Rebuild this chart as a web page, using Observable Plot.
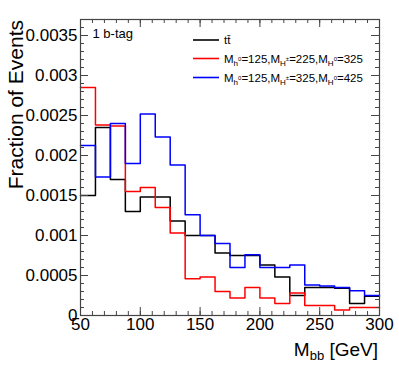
<!DOCTYPE html>
<html><head><meta charset="utf-8">
<script src="https://cdn.jsdelivr.net/npm/d3@7"></script>
<script src="https://cdn.jsdelivr.net/npm/@observablehq/plot@0.6"></script>
<style>
body{margin:0;background:#fff}
svg{font-family:"Liberation Sans",Arial,Helvetica,sans-serif}
</style>
</head><body><div id="chart"></div>
<script>
// bin edges (GeV), 12.5 GeV bins
const binEdges = [50,62.5,75,87.5,100,112.5,125,137.5,150,162.5,175,187.5,200,212.5,225,237.5,250,262.5,275,287.5,300];
// fraction of events per bin
const ttbar  = [0.0015,0.00235,0.0017,0.0013,0.00148,0.00148,0.00118,0.0010,0.0010,0.00078,0.00075,0.00075,0.00063,0.00048,0.00025,0.00035,0.00035,0.00034,0.00015,0.00024];
const sig225 = [0.00285,0.00238,0.00237,0.00155,0.0016,0.00135,0.00103,0.00046,0.00048,0.0003,0.00022,0.00035,0.00022,0.00015,0.00028,0.000125,0.000125,0.00007,0.0001,0.0001];
const sig325 = [0.002125,0.00173,0.0024,0.0019,0.00252,0.00223,0.00188,0.00126,0.0010,0.0009,0.0006,0.00076,0.0006,0.0006,0.00063,0.00038,0.00037,0.00035,0.00031,0.00025];
const seriesColors = ["#000000","#ff0000","#0000ff"];
const xTickLabels = [50,100,150,200,250,300];
const yTickLabels = [0,0.0005,0.001,0.0015,0.002,0.0025,0.003,0.0035];

const W = 399, H = 375, mL = 80, mR = 20, mT = 19, mB = 60;
const pw = W - mL - mR, ph = H - mT - mB;
const frameColor = "#444";

function steps(vals){ return binEdges.map((x,i)=>({x, y: vals[Math.min(i, vals.length-1)]})); }

const xMinor = d3.range(50, 300.01, 10);
const yMinor = d3.range(0, 0.00371, 0.0001);

const svg = Plot.plot({
  width: W, height: H,
  marginLeft: mL, marginRight: mR, marginTop: mT, marginBottom: mB,
  x: {domain: [50, 300]},
  y: {domain: [0, 0.0037]},
  style: {fontFamily: '"Liberation Sans",Arial,sans-serif', background: "#fff"},
  marks: [
    Plot.line(steps(ttbar),  {x:"x", y:"y", curve:"step-after", stroke: seriesColors[0], strokeWidth: 1.5}),
    Plot.line(steps(sig225), {x:"x", y:"y", curve:"step-after", stroke: seriesColors[1], strokeWidth: 1.5}),
    Plot.line(steps(sig325), {x:"x", y:"y", curve:"step-after", stroke: seriesColors[2], strokeWidth: 1.5}),
    // ticks (ROOT style, inside, all four sides)
    Plot.tickX(xMinor, {x: d=>d, insetTop: ph-4, stroke: frameColor}),
    Plot.tickX(xMinor, {x: d=>d, insetBottom: ph-4, stroke: frameColor}),
    Plot.tickX(xTickLabels, {x: d=>d, insetTop: ph-8, stroke: frameColor}),
    Plot.tickX(xTickLabels, {x: d=>d, insetBottom: ph-8, stroke: frameColor}),
    Plot.tickY(yMinor, {y: d=>d, insetRight: pw-4, stroke: frameColor}),
    Plot.tickY(yMinor, {y: d=>d, insetLeft: pw-4, stroke: frameColor}),
    Plot.tickY(yTickLabels, {y: d=>d, insetRight: pw-8, stroke: frameColor}),
    Plot.tickY(yTickLabels, {y: d=>d, insetLeft: pw-8, stroke: frameColor}),
    Plot.frame({stroke: frameColor, strokeWidth: 1.2}),
    Plot.axisX(xTickLabels, {tickSize: 0, tickPadding: 2, fontSize: 17, fill: "#000", label: null}),
    Plot.axisY(yTickLabels, {tickSize: 0, tickPadding: 3, fontSize: 17, fill: "#000", label: null, tickFormat: d => String(d)}),
    Plot.text(["1 b-tag"], {frameAnchor: "top-left", dx: 12, dy: 18, text: d=>d, fontSize: 13, textAnchor: "start", lineAnchor: "bottom", fill: "#000"})
  ]
});

const s = d3.select(svg);
// y axis title
s.append("text")
  .attr("transform", "translate(23,20) rotate(-90)")
  .attr("text-anchor", "end")
  .attr("font-size", 21)
  .attr("fill", "#000")
  .text("Fraction of Events");
// x axis title with subscript
const xt = s.append("text").attr("x", 378).attr("y", 356).attr("text-anchor", "end").attr("font-size", 19).attr("fill", "#000");
xt.append("tspan").text("M");
xt.append("tspan").attr("font-size", 13).attr("dy", 4).text("bb");
xt.append("tspan").attr("dy", -4).text(" [GeV]");

// legend
const legendRows = [
  {color: seriesColors[0], parts: [["tt\u0304", "n"]]},
  {color: seriesColors[1], parts: [["M","n"],["h","sub"],["0","sup"],["=125,M","n"],["H","sub"],["\u00b1","sup"],["=225,M","n"],["H","sub"],["0","sup"],["=325","n"]]},
  {color: seriesColors[2], parts: [["M","n"],["h","sub"],["0","sup"],["=125,M","n"],["H","sub"],["\u00b1","sup"],["=325,M","n"],["H","sub"],["0","sup"],["=425","n"]]}
];
const legendY = [40, 58.5, 77.5];
const lg = s.append("g").attr("text-anchor", "start");
legendRows.forEach((row, i) => {
  const y = legendY[i];
  lg.append("line").attr("x1", 193).attr("x2", 219).attr("y1", y).attr("y2", y)
    .attr("stroke", row.color).attr("stroke-width", 1.6);
  const t = lg.append("text").attr("x", 224).attr("y", y + 4.2).attr("text-anchor", "start").attr("font-size", 11.5).attr("fill", "#000");
  let level = 0;
  row.parts.forEach(([str, kind]) => {
    const target = kind === "n" ? 0 : kind === "sub" ? 3 : -1.5;
    const size = kind === "n" ? 11.5 : kind === "sub" ? 8 : 6;
    t.append("tspan").attr("dy", target - level).attr("font-size", size).text(str);
    level = target;
  });
});

document.getElementById("chart").appendChild(svg);
</script>
</body></html>
